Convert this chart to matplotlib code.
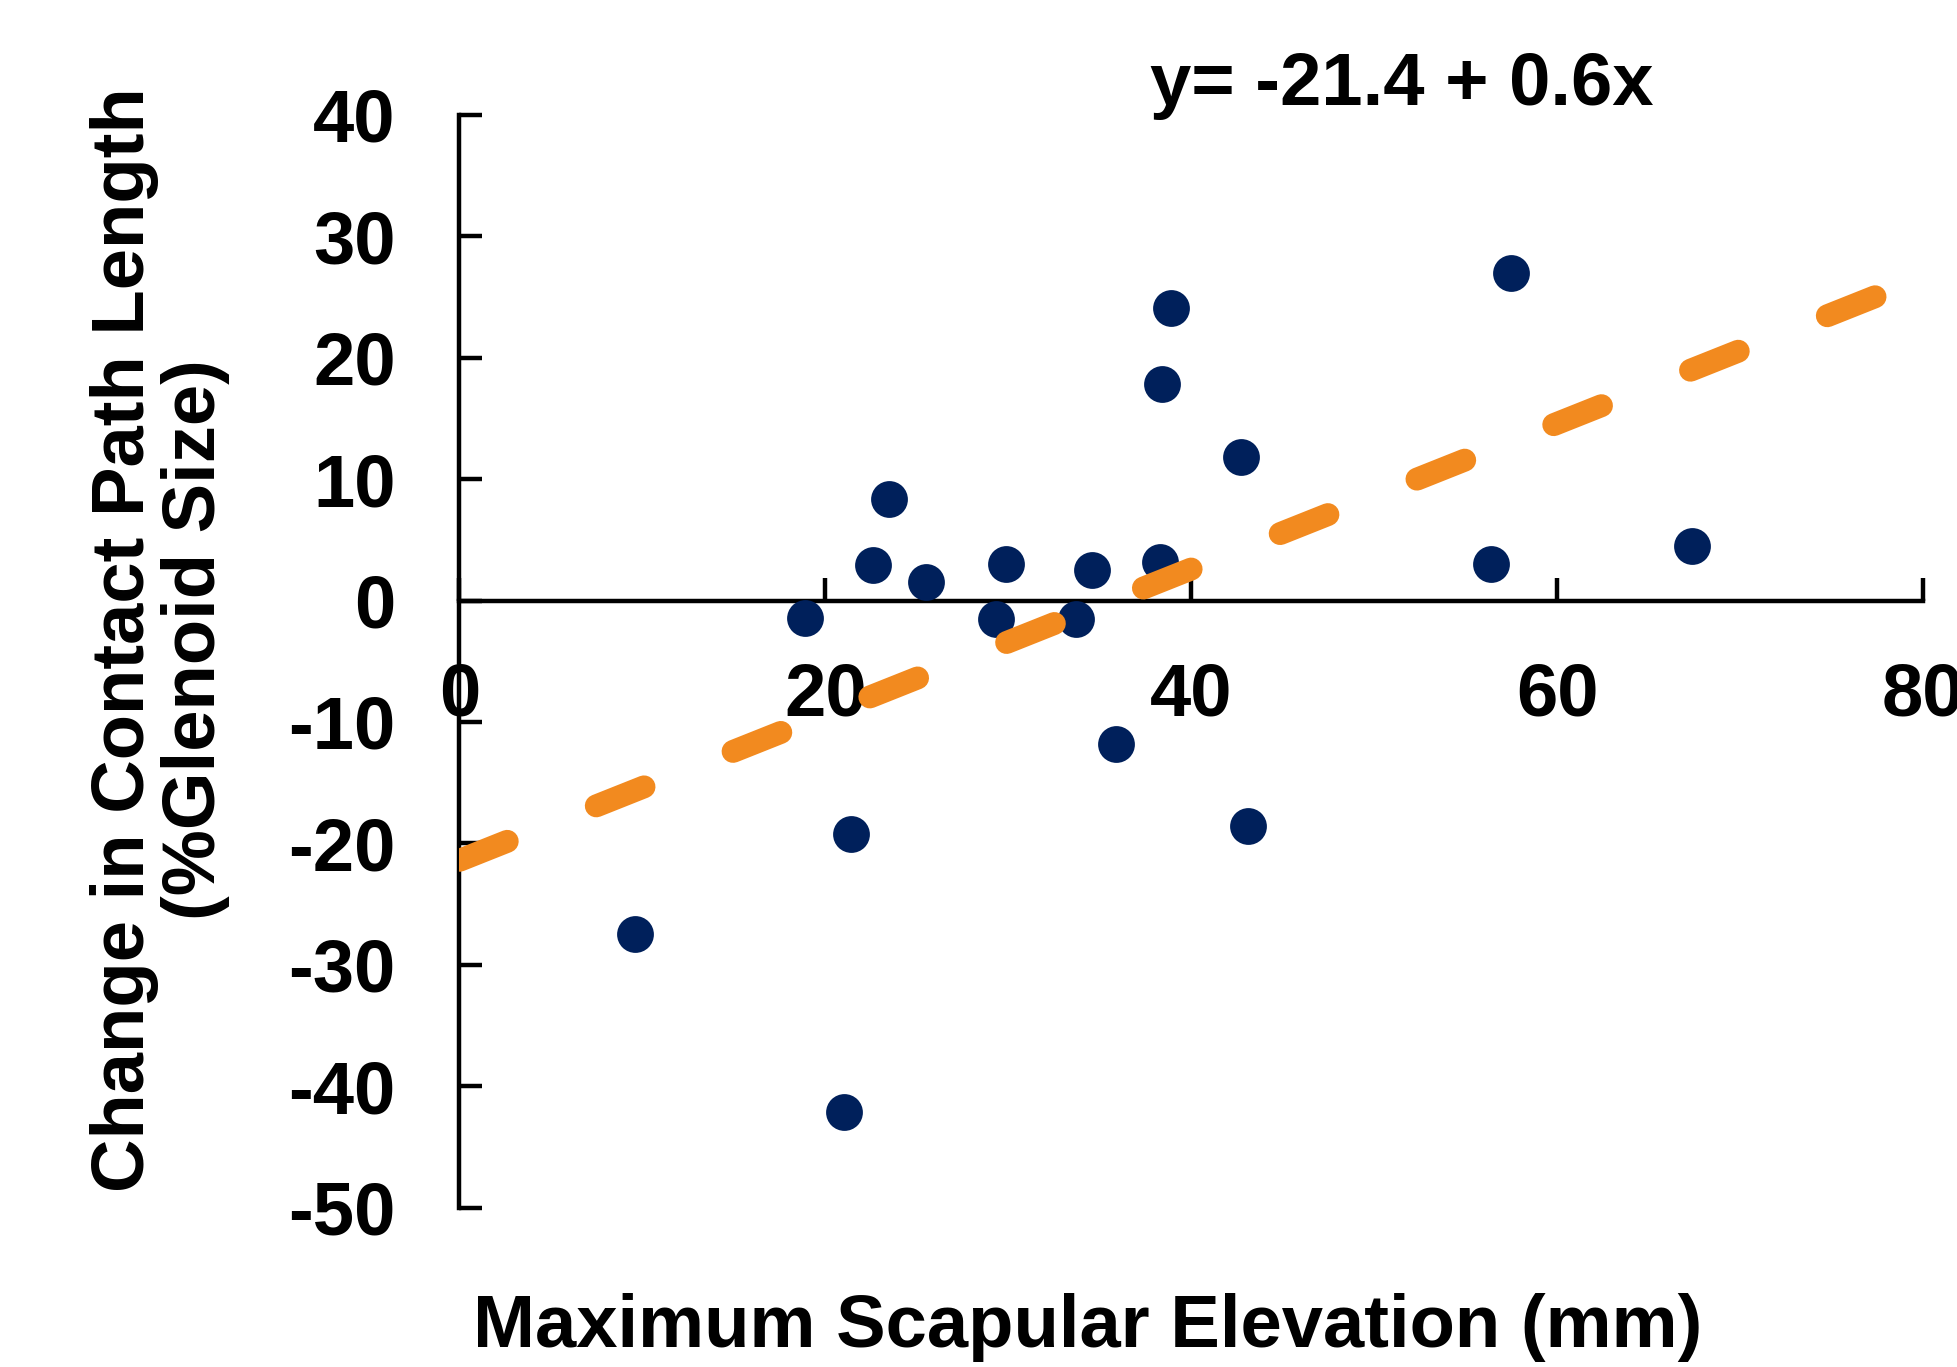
import matplotlib
matplotlib.use("Agg")
import matplotlib.pyplot as plt
import numpy as np

# ---- data ----
elevation_mm = [9.6, 18.9, 21.0, 21.4, 22.6, 23.5, 25.5, 29.3, 29.9, 33.7,
                34.6, 35.9, 38.3, 38.4, 38.9, 42.7, 43.1, 56.4, 57.5, 67.4]
change_pct = [-27.5, -1.4, -42.1, -19.2, 2.9, 8.4, 1.5, -1.5, 3.0, -1.5,
              2.5, -11.8, 3.2, 17.8, 24.1, 11.8, -18.6, 3.0, 27.0, 4.5]
fit_intercept = -21.4
fit_slope = 0.6
fit_x_range = [0, 80]
x_ticks = [0, 20, 40, 60, 80]
y_ticks = [40, 30, 20, 10, 0, -10, -20, -30, -40, -50]
equation_text = "y= -21.4 + 0.6x"
x_label = "Maximum Scapular Elevation (mm)"
y_label = "Change in Contact Path Length\n(%Glenoid Size)"

plt.rcParams['font.family'] = ['Liberation Sans', 'DejaVu Sans']
plt.rcParams['font.weight'] = 'bold'
plt.rcParams['lines.scale_dashes'] = False

W, H = 1958, 1367
fig = plt.figure(figsize=(W / 100, H / 100), dpi=100)
ax = fig.add_axes([459.5 / W, (H - 1207.5) / H, (1923 - 459.5) / W, (1207.5 - 115) / H])

navy = '#00205B'
orange = '#F28A1F'

ax.plot(elevation_mm, change_pct, 'o', color=navy, markersize=26.5,
        markeredgewidth=0, zorder=3, clip_on=False)

fx = np.array(fit_x_range, dtype=float)
fy = fit_intercept + fit_slope * fx
ax.plot(fx, fy, color=orange, linewidth=16.5, dashes=(37, 69),
        dash_capstyle='round', solid_capstyle='round', zorder=4)

ax.set_xlim(0, 80)
ax.set_ylim(-50, 40)

for s in ['top', 'right']:
    ax.spines[s].set_visible(False)
ax.spines['bottom'].set_position(('data', 0))
ax.spines['left'].set_linewidth(3.2)
ax.spines['bottom'].set_linewidth(3.2)

ax.set_xticks(x_ticks)
ax.set_yticks(y_ticks)
ax.set_xticklabels([str(v) for v in x_ticks])
ax.set_yticklabels([str(v) for v in y_ticks])
ax.tick_params(axis='both', direction='in', length=16.5, width=3.2,
               labelsize=53.5)
ax.tick_params(axis='y', pad=46)
ax.tick_params(axis='x', pad=44)
for lbl in ax.get_xticklabels() + ax.get_yticklabels():
    lbl.set_fontweight('bold')

# text in figure pixel coordinates (origin top-left)
def fpos(px, py):
    return px / W, 1 - py / H

fig.text(*fpos(1402, 85), equation_text, fontsize=53.5, fontweight='bold',
         ha='center', va='center')
fig.text(*fpos(1088, 1327), x_label, fontsize=53.5, fontweight='bold',
         ha='center', va='center')
fig.text(*fpos(160, 640), y_label, fontsize=53.5, fontweight='bold',
         ha='center', va='center', rotation=90, multialignment='center',
         linespacing=1.05)

fig.savefig('out.png', dpi=100)
